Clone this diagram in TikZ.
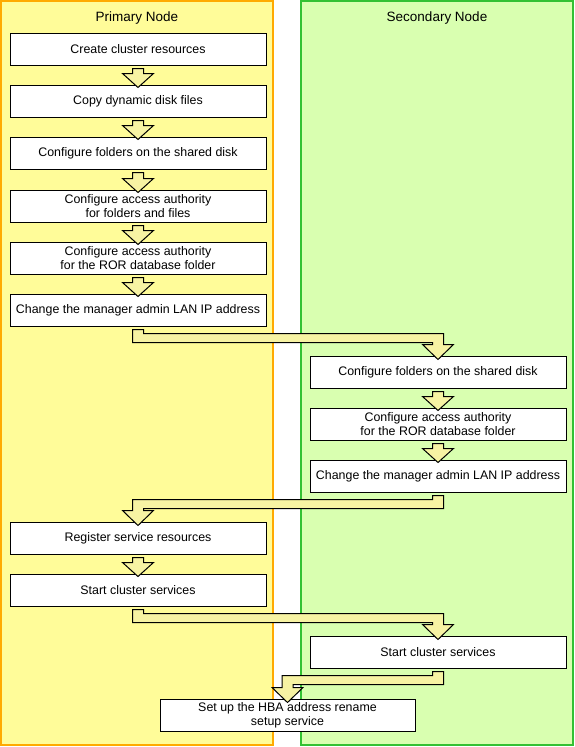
\documentclass[tikz,border=0pt]{standalone}
\usepackage{fontspec}
\setmainfont{Liberation Sans}
\usetikzlibrary{calc}
\definecolor{laneA}{HTML}{FFFC99}
\definecolor{laneAedge}{HTML}{FFAA00}
\definecolor{laneB}{HTML}{D9FFB0}
\definecolor{laneBedge}{HTML}{33C133}
\definecolor{arrowfill}{HTML}{F7F3A3}
\tikzset{
  stepbox/.style={draw=black, fill=white, line width=1pt, minimum width=256pt,
    minimum height=32pt, inner sep=0pt, align=center,
    font=\fontsize{12.4}{13.6}\selectfont},
  lanetitle/.style={font=\fontsize{13.5}{16}\selectfont},
  barrow/.style={draw=black, line width=1pt, fill=arrowfill, line join=miter},
  lanebox/.style={line width=2pt},
}
\newcommand\darrow[2]{%
  \draw[barrow] let \p1=(#1.south), \p2=(#2.north) in
    (\x1-5.5pt,\y1-3pt) -- (\x1+5.5pt,\y1-3pt) -- (\x1+5.5pt,\y2+11pt)
    -- (\x1+15.5pt,\y2+11pt) -- (\x1,\y2-3pt) -- (\x1-15.5pt,\y2+11pt)
    -- (\x1-5.5pt,\y2+11pt) -- cycle;}
% #3 = signed half shaft width, #4 = signed half head width
\newcommand\elbow[4]{%
  \draw[barrow] let \p1=(#1.south), \p2=(#2.north) in
    ({\x1-#3},{\y1-3pt}) -- ({\x1+#3},{\y1-3pt})
    -- ({\x1+#3},{\y1-7pt}) -- ({\x2+#3},{\y1-7pt})
    -- ({\x2+#3},{\y2+11pt}) -- ({\x2+#4},{\y2+11pt})
    -- (\x2,{\y2-4pt}) -- ({\x2-#4},{\y2+11pt})
    -- ({\x2-#3},{\y2+11pt}) -- ({\x2-#3},{\y1-16pt})
    -- ({\x1-#3},{\y1-16pt}) -- cycle;}
\begin{document}
\begin{tikzpicture}[x=1pt,y=-1pt]
\useasboundingbox (0,0) rectangle (575,747);
% lanes
\draw[lanebox, draw=laneAedge, fill=laneA] (1,1) rectangle (273,745);
\draw[lanebox, draw=laneBedge, fill=laneB] (301,1) rectangle (573,745);
\node[lanetitle] (ptitle) at (137,18) {Primary Node};
\node[lanetitle] (stitle) at (437,18) {Secondary Node};
% primary steps
\node[stepbox] (p1) at (138,49) {Create cluster resources};
\node[stepbox] (p2) at (138,101) {Copy dynamic disk files};
\node[stepbox] (p3) at (138,153) {Configure folders on the shared disk};
\node[stepbox] (p4) at (138,206) {Configure access authority\\for folders and files};
\node[stepbox] (p5) at (138,258) {Configure access authority\\for the ROR database folder};
\node[stepbox] (p6) at (138,310) {Change the manager admin LAN IP address};
% secondary steps
\node[stepbox] (s1) at (438,372) {Configure folders on the shared disk};
\node[stepbox] (s2) at (438,424) {Configure access authority\\for the ROR database folder};
\node[stepbox] (s3) at (438,476) {Change the manager admin LAN IP address};
% back to primary
\node[stepbox] (p7) at (138,538) {Register service resources};
\node[stepbox] (p8) at (138,590) {Start cluster services};
\node[stepbox] (s4) at (438,652) {Start cluster services};
\node[stepbox, minimum width=255pt] (h1) at (287.5,715) {Set up the HBA address rename\\setup service};
% arrows
\darrow{p1}{p2}
\darrow{p2}{p3}
\darrow{p3}{p4}
\darrow{p4}{p5}
\darrow{p5}{p6}
\elbow{p6}{s1}{5.5pt}{15.5pt}
\darrow{s1}{s2}
\darrow{s2}{s3}
\elbow{s3}{p7}{-5.5pt}{-15.5pt}
\darrow{p7}{p8}
\elbow{p8}{s4}{5.5pt}{15.5pt}
\elbow{s4}{h1}{-5.5pt}{-15.5pt}
\end{tikzpicture}
\end{document}
